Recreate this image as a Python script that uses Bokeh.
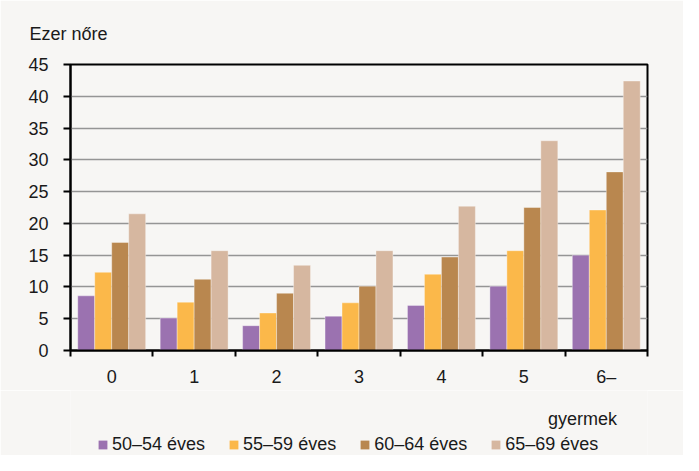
from bokeh.plotting import figure
from bokeh.models import (ColumnDataSource, Range1d, FixedTicker, Label, Legend, LegendItem)
from bokeh.layouts import column
from bokeh.transform import dodge
from bokeh.embed import file_html
from bokeh.resources import INLINE

categories = ["0", "1", "2", "3", "4", "5", "6–"]
s50_54 = [8.6, 5.1, 3.9, 5.4, 7.1, 10.1, 15.0]
s55_59 = [12.3, 7.6, 5.9, 7.5, 12.0, 15.7, 22.1]
s60_64 = [17.0, 11.2, 9.0, 10.1, 14.7, 22.5, 28.1]
s65_69 = [21.5, 15.7, 13.4, 15.7, 22.7, 33.0, 42.4]
series_names = ["50–54 éves", "55–59 éves", "60–64 éves", "65–69 éves"]
y_ticks = [0, 5, 10, 15, 20, 25, 30, 35, 40, 45]
y_title = "Ezer nőre"
x_title = "gyermek"

colors = ["#9b72b0", "#fbb84a", "#b9874f", "#d6b7a0"]
FONT = "Liberation Sans"
FS = "18px"
TXT = "#1a1a1a"
BG = "#f7f6f4"
W = 683
ML, MR = 70, 36

# main chart
xs = [i + 0.5 for i in range(len(categories))]
src = ColumnDataSource(dict(x=xs, a=s50_54, b=s55_59, c=s60_64, d=s65_69))

p = figure(width=W, height=390, output_backend="svg", toolbar_location=None,
           x_range=Range1d(0, len(categories)), y_range=Range1d(0, 45),
           min_border_left=ML, min_border_top=62, min_border_right=MR, min_border_bottom=40)
p.background_fill_color = BG
p.border_fill_color = BG
p.outline_line_color = "black"
p.outline_line_width = 2

p.title.text = y_title
p.title.align = "left"
p.title.offset = -41
p.title.standoff = 42
p.title.text_font = FONT
p.title.text_font_size = FS
p.title.text_font_style = "normal"
p.title.text_color = TXT

bw = 0.206
offs = [-1.5 * bw, -0.5 * bw, 0.5 * bw, 1.5 * bw]
for col, off, c in zip(["a", "b", "c", "d"], offs, colors):
    p.vbar(x=dodge("x", off), top=col, width=bw, bottom=0, source=src,
           fill_color=c, line_color="white", line_alpha=0.35, line_width=1)

p.xaxis.ticker = FixedTicker(ticks=xs, minor_ticks=list(range(len(categories) + 1)))
p.xaxis.major_label_overrides = {x: c for x, c in zip(xs, categories)}
p.xaxis.major_tick_out = 0
p.xaxis.major_tick_in = 0
p.xaxis.minor_tick_out = 6
p.xaxis.minor_tick_in = 0
p.xaxis.minor_tick_line_color = "black"
p.xaxis.minor_tick_line_width = 2
p.xaxis.major_label_standoff = 10

p.yaxis.ticker = FixedTicker(ticks=y_ticks)
p.yaxis.major_tick_out = 7
p.yaxis.major_tick_in = 0
p.yaxis.major_tick_line_width = 2
p.yaxis.major_tick_line_color = "black"
p.yaxis.minor_tick_line_color = None
p.yaxis.major_label_standoff = 15

for ax in (p.xaxis, p.yaxis):
    ax.axis_line_color = "black"
    ax.axis_line_width = 2
    ax.major_label_text_font = FONT
    ax.major_label_text_font_size = FS
    ax.major_label_text_color = TXT

p.xgrid.grid_line_color = None
p.ygrid.grid_line_color = "#959595"
p.ygrid.grid_line_width = 1.5

# bottom strip: x title and legend (pixel data coordinates)
BH = 65
bot = figure(width=W, height=BH, output_backend="svg", toolbar_location=None,
             x_range=Range1d(ML, W - MR), y_range=Range1d(0, BH),
             min_border_left=ML, min_border_right=MR, min_border_top=0, min_border_bottom=0,
             x_axis_type=None, y_axis_type=None)
bot.grid.visible = False
bot.outline_line_color = None
bot.background_fill_color = BG
bot.border_fill_color = BG

bot.add_layout(Label(x=582, y=37, text=x_title, text_font=FONT, text_font_size=FS,
                     text_baseline="alphabetic", text_align="center", text_color=TXT))
dummy = ColumnDataSource(dict(x=[-1000], top=[0]))
swatches = [bot.vbar(x="x", top="top", width=1, source=dummy, fill_color=c, line_color=None)
            for c in colors]
legend = Legend(items=[LegendItem(label=n, renderers=[r]) for n, r in zip(series_names, swatches)],
                orientation="horizontal", location=(27, 0),
                glyph_width=11, glyph_height=11, label_height=12, label_standoff=4,
                spacing=23, padding=0, margin=0,
                background_fill_alpha=0, border_line_color=None,
                label_text_font=FONT, label_text_font_size=FS, label_text_color=TXT)
bot.add_layout(legend, "center")

layout = column(p, bot, spacing=0)
open("out.html", "w").write(file_html(layout, INLINE))
